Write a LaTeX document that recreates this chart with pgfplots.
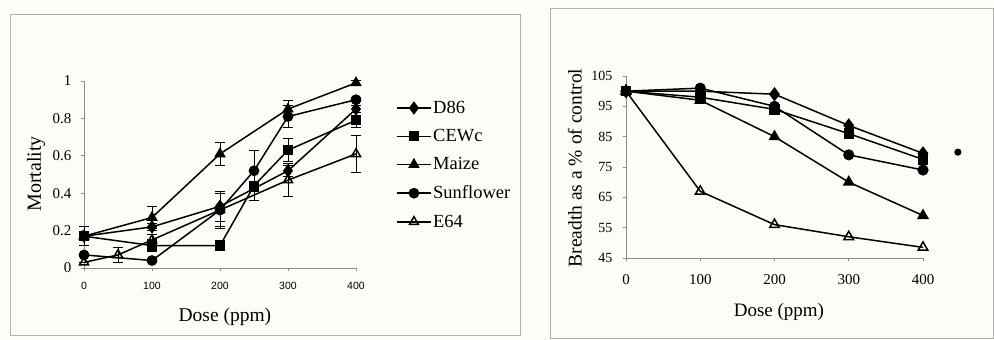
\documentclass[border=0pt]{standalone}
\usepackage{fontspec}
\setmainfont{Liberation Serif}
\newfontfamily\arialf{Liberation Sans}
\usepackage{pgfplots}
\pgfplotsset{compat=1.18}
\definecolor{bg}{RGB}{253,253,248}
\definecolor{axgray}{RGB}{140,140,140}
\definecolor{framegray}{RGB}{175,175,175}
\pgfplotsset{
  mystyle/.style={
    scale only axis,
    axis lines*=left,
    axis line style={axgray, line width=0.8pt, -},
    tick style={axgray, line width=0.6pt},
    tick align=outside,
    major tick length=3pt,
    clip=false,
    /pgf/number format/assume math mode=true,
    every axis plot/.append style={black, line width=1.5pt},
  },
  ebars/.style={error bars/.cd, y dir=both, y explicit,
    error bar style={line width=1pt, black},
    error mark options={rotate=90, mark size=5pt, line width=1pt, black}},
}
\begin{document}
\begin{tikzpicture}[x=1pt,y=1pt]
\fill[bg, use as bounding box] (0,0) rectangle (994,340);
\draw[framegray, line width=0.8pt] (10,5) rectangle (520,326);
\draw[framegray, line width=0.8pt] (550,2) rectangle (993.6,332);

% ---------- Left: Mortality ----------
\begin{axis}[mystyle,
  at={(84pt,72pt)}, anchor=south west,
  width=272pt, height=187pt,
  xmin=0, xmax=400, ymin=0, ymax=1,
  xtick={0,100,200,300,400},
  ytick={0,0.2,0.4,0.6,0.8,1},
  yticklabels={0,0.2,0.4,0.6,0.8,1},
  xticklabel style={font=\arialf\fontsize{10.5}{12}\selectfont, yshift=-8pt},
  yticklabel style={font=\fontsize{15}{16}\selectfont, xshift=-6pt},
  xlabel={Dose (ppm)}, ylabel={Mortality},
  xlabel style={font=\fontsize{19.5}{22}\selectfont, at={(axis description cs:0.518,-0.262)}, anchor=center},
  ylabel style={font=\fontsize{20}{22}\selectfont, at={(axis description cs:-0.1765,0.503)}, anchor=center},
  legend style={at={(1.136,0.912)}, anchor=north west, draw=none, fill=none,
    font=\fontsize{18.5}{20}\selectfont, row sep=11.5pt, nodes={inner sep=1.5pt}},
  legend cell align=left,
  legend image code/.code={\draw[mark repeat=2,mark phase=2,#1] plot coordinates {(0pt,0pt) (17pt,0pt) (34pt,0pt)};},
]
\addplot[mark=diamond*, mark size=5.5pt, mark options={solid}, ebars] coordinates {
 (0,0.17) +- (0,0) (100,0.22) +- (0,0.02) (200,0.33) +- (0,0.08) (300,0.52) +- (0,0.03) (400,0.85) +- (0,0.02)};
\addlegendentry{D86}
\addplot[mark=square*, mark size=4.4pt, mark options={solid}, ebars] coordinates {
 (0,0.17) +- (0,0.05) (100,0.12) +- (0,0.03) (200,0.12) +- (0,0.02) (250,0.44) +- (0,0.08) (300,0.63) +- (0,0.06) (400,0.79) +- (0,0.04)};
\addlegendentry{CEWc}
\addplot[mark=triangle*, mark size=5.2pt, mark options={solid}, ebars] coordinates {
 (0,0.17) +- (0,0) (100,0.27) +- (0,0.06) (200,0.61) +- (0,0.06) (300,0.85) +- (0,0.045) (400,0.99) +- (0,0.01)};
\addlegendentry{Maize}
\addplot[mark=*, mark size=4.6pt, mark options={solid}, ebars] coordinates {
 (0,0.07) +- (0,0.01) (100,0.04) +- (0,0.01) (200,0.31) +- (0,0.09) (250,0.52) +- (0,0.11) (300,0.81) +- (0,0.06) (400,0.90) +- (0,0.01)};
\addlegendentry{Sunflower}
\addplot[mark=triangle, mark size=5.2pt, mark options={solid, fill=white}, ebars] coordinates {
 (0,0.03) +- (0,0) (50,0.07) +- (0,0.04) (100,0.15) +- (0,0.03) (200,0.31) +- (0,0.1) (300,0.47) +- (0,0.09) (400,0.61) +- (0,0.10)};
\addlegendentry{E64}
\end{axis}

% ---------- Right: Breadth ----------
\begin{axis}[mystyle,
  at={(626pt,82pt)}, anchor=south west,
  width=297pt, height=182pt,
  xmin=0, xmax=400, ymin=45, ymax=105,
  xtick={0,100,200,300,400},
  ytick={45,55,65,75,85,95,105},
  xticklabel style={font=\fontsize{15}{16}\selectfont, yshift=-10pt},
  yticklabel style={font=\fontsize{14}{16}\selectfont, xshift=-7pt},
  xlabel={Dose (ppm)}, ylabel={Breadth as a \% of control},
  xlabel style={font=\fontsize{19}{22}\selectfont, at={(axis description cs:0.515,-0.297)}, anchor=center},
  ylabel style={font=\fontsize{19.5}{22}\selectfont, at={(axis description cs:-0.1717,0.4945)}, anchor=center},
]
\addplot[mark=diamond*, mark size=6pt, mark options={solid}] coordinates {
 (0,100) (100,100) (200,99) (300,88.7) (400,79.5)};
\addplot[mark=square*, mark size=4.5pt, mark options={solid}] coordinates {
 (0,100) (100,98) (200,94) (300,86) (400,77.5)};
\addplot[mark=triangle*, mark size=5.5pt, mark options={solid}] coordinates {
 (0,100) (100,97) (200,85) (300,70) (400,59)};
\addplot[mark=*, mark size=4.8pt, mark options={solid}] coordinates {
 (0,100) (100,101) (200,95) (300,79) (400,74)};
\addplot[mark=triangle, mark size=5.5pt, mark options={solid, fill=white}] coordinates {
 (0,100) (100,67) (200,56) (300,52) (400,48.5)};
\addplot[only marks, mark=*, mark size=2.8pt] coordinates {(447,79.9)};
\end{axis}
\end{tikzpicture}
\end{document}
